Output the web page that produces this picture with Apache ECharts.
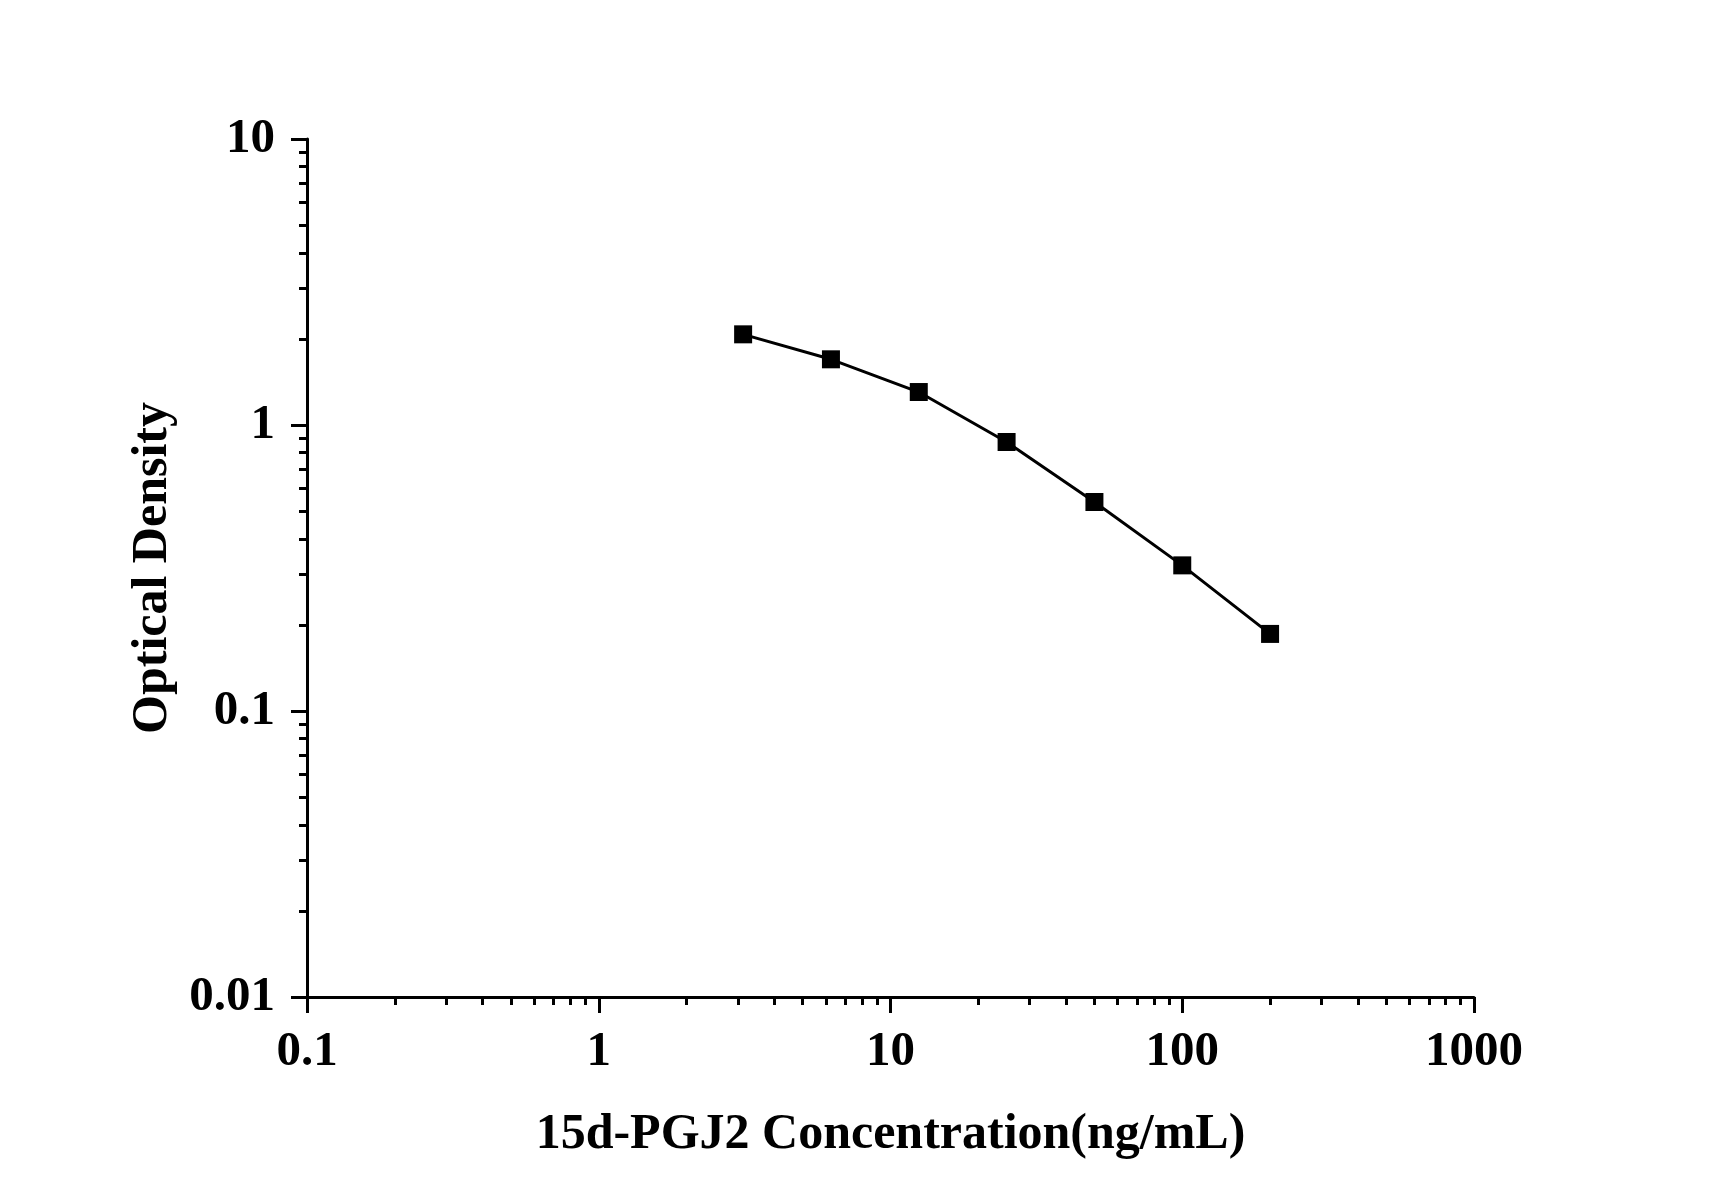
<!DOCTYPE html>
<html>
<head>
<meta charset="utf-8">
<script src="https://cdn.jsdelivr.net/npm/echarts@6/dist/echarts.min.js"></script>
<style>
html,body{margin:0;padding:0;background:#fff;}
#chart{width:1712px;height:1196px;}
</style>
</head>
<body>
<div id="chart"></div>
<script>
// Data
const concentrations = [3.125, 6.25, 12.5, 25, 50, 100, 200];
const opticalDensity = [2.075, 1.697, 1.304, 0.872, 0.538, 0.323, 0.186];
// Ticks
const xMajorTicks = [0.1, 1, 10, 100, 1000];
const xMinorTicks = [0.2,0.3,0.4,0.5,0.6,0.7,0.8,0.9, 2,3,4,5,6,7,8,9, 20,30,40,50,60,70,80,90, 200,300,400,500,600,700,800,900];
const yMajorTicks = [0.01, 0.1, 1, 10];
const yMinorTicks = [0.02,0.03,0.04,0.05,0.06,0.07,0.08,0.09, 0.2,0.3,0.4,0.5,0.6,0.7,0.8,0.9, 2,3,4,5,6,7,8,9];
const xTitle = '15d-PGJ2 Concentration(ng/mL)';
const yTitle = 'Optical Density';

const FONT = '"Liberation Serif", "Times New Roman", serif';
const chart = echarts.init(document.getElementById('chart'), null, {renderer: 'canvas'});

function labelText(v) {
  const map = {0.01: '0.01', 0.1: '0.1', 1: '1', 10: '10', 100: '100', 1000: '1000'};
  for (const k in map) { if (Math.abs(Number(k) - v) / Number(k) < 1e-6) return map[k]; }
  return String(v);
}

chart.setOption({
  backgroundColor: '#ffffff',
  animation: false,
  grid: {left: 307, right: 238, top: 139, bottom: 199, containLabel: false},
  xAxis: [
    {
      type: 'log', logBase: 10, min: 0.1, max: 1000,
      position: 'bottom',
      name: xTitle, nameLocation: 'middle', nameGap: 113,
      nameTextStyle: {fontFamily: FONT, fontWeight: 'bold', fontSize: 50, color: '#000'},
      axisLine: {show: true, onZero: false, lineStyle: {color: '#000', width: 3}},
      axisTick: {show: true, inside: false, length: 16, lineStyle: {color: '#000', width: 3}, customValues: xMajorTicks},
      axisLabel: {show: true, margin: 31, fontFamily: FONT, fontWeight: 'bold', fontSize: 49, color: '#000',
        customValues: xMajorTicks, formatter: v => labelText(v)},
      splitLine: {show: false}, minorTick: {show: false}
    },
    {
      type: 'log', logBase: 10, min: 0.1, max: 1000,
      position: 'bottom',
      axisLine: {show: false, onZero: false},
      axisTick: {show: true, inside: false, length: 8, lineStyle: {color: '#000', width: 3}, customValues: xMinorTicks},
      axisLabel: {show: false},
      splitLine: {show: false}
    }
  ],
  yAxis: [
    {
      type: 'log', logBase: 10, min: 0.01, max: 10,
      position: 'left',
      name: yTitle, nameLocation: 'middle', nameGap: 124, nameRotate: 90,
      nameTextStyle: {fontFamily: FONT, fontWeight: 'bold', fontSize: 50, color: '#000'},
      axisLine: {show: true, onZero: false, lineStyle: {color: '#000', width: 3}},
      axisTick: {show: true, inside: false, length: 16, lineStyle: {color: '#000', width: 3}, customValues: yMajorTicks},
      axisLabel: {show: true, margin: 32, fontFamily: FONT, fontWeight: 'bold', fontSize: 49, color: '#000',
        customValues: yMajorTicks, formatter: v => labelText(v)},
      splitLine: {show: false}, minorTick: {show: false}
    },
    {
      type: 'log', logBase: 10, min: 0.01, max: 10,
      position: 'left',
      axisLine: {show: false, onZero: false},
      axisTick: {show: true, inside: false, length: 8, lineStyle: {color: '#000', width: 3}, customValues: yMinorTicks},
      axisLabel: {show: false},
      splitLine: {show: false}
    }
  ],
  series: [{
    type: 'line',
    xAxisIndex: 0, yAxisIndex: 0,
    data: concentrations.map((c, i) => [c, opticalDensity[i]]),
    symbol: 'rect', symbolSize: 18,
    itemStyle: {color: '#000'},
    lineStyle: {color: '#000', width: 3},
    smooth: false
  }]
});
</script>
</body>
</html>
